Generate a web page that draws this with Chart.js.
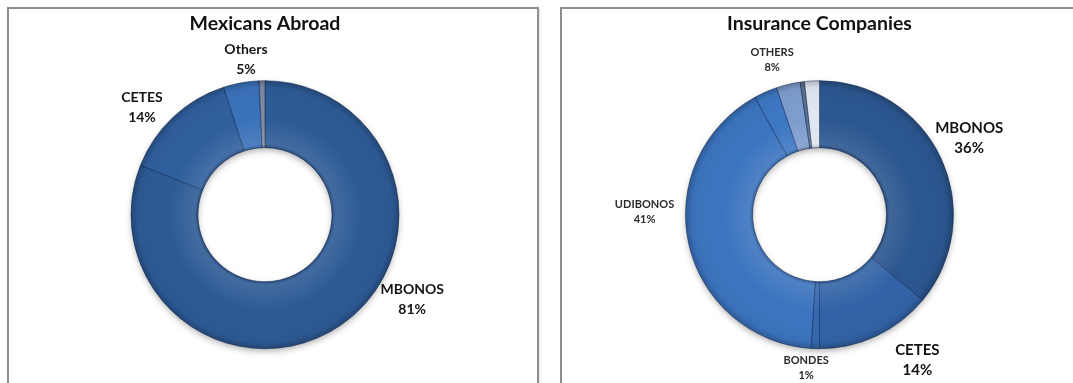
<!DOCTYPE html>
<html>
<head>
<meta charset="utf-8">
<script src="https://cdn.jsdelivr.net/npm/chart.js@4"></script>
<style>
  html, body { margin: 0; padding: 0; background: #fff; width: 1073px; height: 383px; overflow: hidden; }
  .panel { position: absolute; top: 7px; height: 400px; border: 2px solid #8e8e8e; background: #fff;
           box-shadow: 1px 1px 2px rgba(0,0,0,0.12); }
  #leftPanel { left: 7px; width: 528px; }
  #rightPanel { left: 560px; width: 540px; }
  canvas { position: absolute; left: 0; top: 0; }
</style>
</head>
<body>
<div class="panel" id="leftPanel"><canvas id="mexChart" width="528" height="380"></canvas></div>
<div class="panel" id="rightPanel"><canvas id="insChart" width="511" height="380"></canvas></div>
<script>
// holdings by instrument, percent of total
const mexLabels = ['MBONOS', 'CETES', 'Others', 'Others'];
const mexValues = [81, 14, 4.3, 0.7];
const mexColors = ['#2d5a95', '#2f5e9d', '#3a71b9', '#7d8aa2'];

const insLabels = ['MBONOS', 'CETES', 'BONDES', 'UDIBONOS', 'OTHERS', 'OTHERS', 'OTHERS', 'OTHERS'];
const insValues = [36, 14, 1, 41, 2.8, 2.9, 0.5, 1.8];
const insColors = ['#2b568f', '#3263a6', '#3568b0', '#3b74bf', '#3d77c3', '#7d9dcf', '#5b6f8f', '#dfe6f1'];

const FONT = 'Lato, "Open Sans", sans-serif';

// soft shadow under the ring
const ringShadow = {
  id: 'ringShadow',
  beforeDatasetsDraw(chart) {
    const arc = chart.getDatasetMeta(0).data[0];
    if (!arc) return;
    const ctx = chart.ctx;
    ctx.save();
    ctx.shadowColor = 'rgba(0,0,0,0.35)';
    ctx.shadowBlur = 7;
    ctx.shadowOffsetY = 3;
    ctx.beginPath();
    ctx.arc(arc.x, arc.y, arc.outerRadius - 1, 0, Math.PI * 2);
    ctx.arc(arc.x, arc.y, arc.innerRadius + 1, 0, Math.PI * 2, true);
    ctx.fillStyle = '#2d5a95';
    ctx.fill();
    ctx.restore();
  },
  // bevel-ish shading over the slices
  afterDatasetsDraw(chart) {
    const arc = chart.getDatasetMeta(0).data[0];
    if (!arc) return;
    const ctx = chart.ctx;
    const g = ctx.createRadialGradient(arc.x, arc.y, arc.innerRadius, arc.x, arc.y, arc.outerRadius);
    g.addColorStop(0, 'rgba(0,0,0,0.22)');
    g.addColorStop(0.06, 'rgba(255,255,255,0.10)');
    g.addColorStop(0.45, 'rgba(255,255,255,0)');
    g.addColorStop(0.9, 'rgba(0,0,0,0.03)');
    g.addColorStop(1, 'rgba(0,0,0,0.22)');
    ctx.save();
    ctx.beginPath();
    ctx.arc(arc.x, arc.y, arc.outerRadius, 0, Math.PI * 2);
    ctx.arc(arc.x, arc.y, arc.innerRadius, 0, Math.PI * 2, true);
    ctx.fillStyle = g;
    ctx.fill();
    ctx.restore();
  }
};

// name + percent next to each group of slices sharing a name
const sliceLabels = {
  id: 'sliceLabels',
  afterDraw(chart, args, opts) {
    const meta = chart.getDatasetMeta(0);
    const names = chart.data.labels;
    const values = chart.data.datasets[0].data;
    const total = values.reduce((a, b) => a + b, 0);
    const groups = [];
    names.forEach((name, i) => {
      const last = groups[groups.length - 1];
      if (last && last.name === name) { last.sum += values[i]; last.end = i; }
      else groups.push({ name: name, sum: values[i], start: i, end: i });
    });
    const ctx = chart.ctx;
    const first = meta.data[0];
    ctx.save();
    ctx.textAlign = 'center';
    ctx.textBaseline = 'middle';
    groups.forEach(g => {
      const spot = opts.spots[g.name] || {};
      const mid = (meta.data[g.start].startAngle + meta.data[g.end].endAngle) / 2;
      const ang = spot.angle !== undefined ? (spot.angle - 90) * Math.PI / 180 : mid;
      const r = first.outerRadius + (spot.gap || 25);
      const px = first.x + r * Math.cos(ang);
      const py = first.y + r * Math.sin(ang);
      const size = spot.size || 14;
      const lh = spot.lh || 20;
      ctx.font = 'bold ' + size + 'px ' + FONT;
      ctx.fillStyle = spot.color || '#141414';
      ctx.fillText(g.name, px, py - lh / 2);
      ctx.fillText(Math.round(g.sum / total * 100) + '%', px, py + lh / 2);
    });
    ctx.restore();
  }
};

function donut(id, labels, values, colors, title, pad, spots) {
  return new Chart(document.getElementById(id), {
    type: 'doughnut',
    data: {
      labels: labels,
      datasets: [{
        data: values,
        backgroundColor: colors,
        borderColor: 'rgba(28,50,88,0.55)',
        borderWidth: 1,
        hoverOffset: 0,
        radius: 134,
        cutout: '50%'
      }]
    },
    options: {
      responsive: false,
      animation: false,
      layout: { padding: { left: pad.left, right: pad.right, top: 0, bottom: 5 } },
      plugins: {
        legend: { display: false },
        tooltip: { enabled: false },
        title: {
          display: true,
          text: title,
          color: '#111',
          font: { family: FONT, size: 19.5, weight: 'bold' },
          padding: { top: 3, bottom: 10 }
        },
        sliceLabels: { spots: spots }
      }
    },
    plugins: [ringShadow, sliceLabels]
  });
}

donut('mexChart', mexLabels, mexValues, mexColors, 'Mexicans Abroad', { left: 0, right: 16 }, {
  MBONOS: { angle: 120, gap: 36, size: 14 },
  CETES: { angle: 311, gap: 29, size: 14 },
  Others: { angle: 353, gap: 22, size: 14 }
});

donut('insChart', insLabels, insValues, insColors, 'Insurance Companies', { left: 4, right: 0 }, {
  MBONOS: { angle: 63, gap: 34, size: 15 },
  CETES: { angle: 146, gap: 41, size: 15 },
  BONDES: { angle: 185, gap: 20, size: 11, lh: 15, color: '#2a2a2a' },
  UDIBONOS: { angle: 271, gap: 41, size: 11, lh: 15, color: '#2a2a2a' },
  OTHERS: { angle: 343, gap: 28, size: 11, lh: 15, color: '#2a2a2a' }
});
</script>
</body>
</html>
